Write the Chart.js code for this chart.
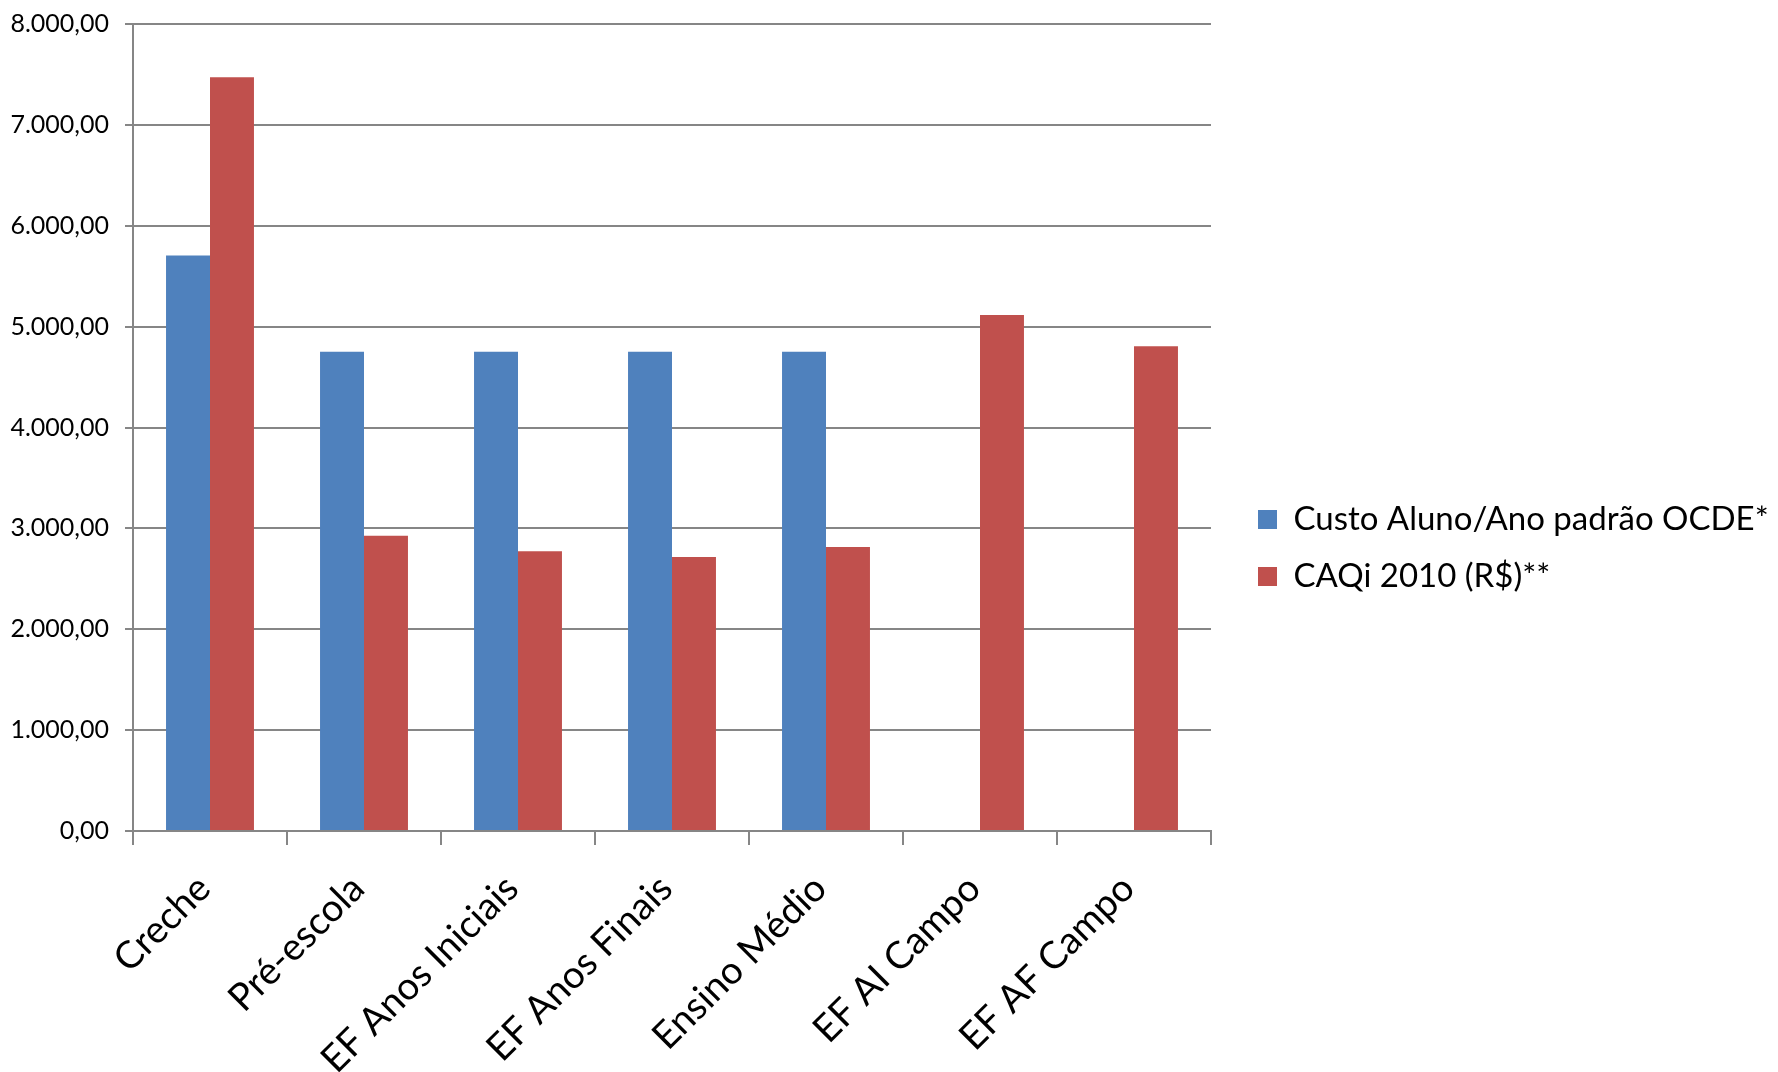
<!DOCTYPE html>
<html>
<head>
<meta charset="utf-8">
<script src="https://cdn.jsdelivr.net/npm/chart.js@4.4.0/dist/chart.umd.min.js"></script>
<style>
  body { margin: 0; background: #fff; }
</style>
</head>
<body>
<canvas id="grafico" width="1778" height="1072"></canvas>
<script>
// Dados do grafico
const etapas = ['Creche', 'Pré-escola', 'EF Anos Iniciais', 'EF Anos Finais', 'Ensino Médio', 'EF AI Campo', 'EF AF Campo'];
const custoOCDE = [5705, 4752, 4752, 4752, 4752, null, null];
const caqi2010 = [7471, 2926, 2772, 2717, 2815, 5115, 4805];
const yTicks = ['0,00', '1.000,00', '2.000,00', '3.000,00', '4.000,00', '5.000,00', '6.000,00', '7.000,00', '8.000,00'];

const cinza = '#868686';
const fonte = 'Lato';

// deixa a legenda com largura fixa
const larguraLegenda = {
    id: 'larguraLegenda',
    afterInit(chart) {
        const legenda = chart.legend;
        const fitOriginal = legenda.fit.bind(legenda);
        legenda.fit = function () {
            fitOriginal();
            this.width = 544;
        };
    }
};

const ctx = document.getElementById('grafico');
const myChart = new Chart(ctx, {
    type: 'bar',
    data: {
        labels: etapas,
        datasets: [{
            label: 'Custo Aluno/Ano padrão OCDE*',
            data: custoOCDE,
            backgroundColor: '#4F81BD',
            borderWidth: 0
        }, {
            label: 'CAQi 2010 (R$)**',
            data: caqi2010,
            backgroundColor: '#C0504D',
            borderWidth: 0
        }]
    },
    options: {
        responsive: false,
        animation: false,
        devicePixelRatio: 1,
        layout: {
            padding: { top: 24, left: 0, right: 0, bottom: 0 }
        },
        datasets: {
            bar: {
                categoryPercentage: 0.571,
                barPercentage: 1
            }
        },
        plugins: {
            tooltip: { enabled: false },
            legend: {
                position: 'right',
                labels: {
                    boxWidth: 19,
                    boxHeight: 19,
                    padding: 24,
                    color: '#000',
                    font: { family: fonte, size: 33 }
                }
            }
        },
        scales: {
            x: {
                grid: {
                    display: true,
                    drawOnChartArea: false,
                    drawTicks: true,
                    tickLength: 14,
                    color: cinza,
                    lineWidth: 2
                },
                border: { color: cinza, width: 2 },
                ticks: {
                    color: '#000',
                    font: { family: fonte, size: 38 },
                    minRotation: 45,
                    maxRotation: 45,
                    padding: 21,
                    labelOffset: -6
                },
                afterFit(s) {
                    s.height = 241;
                    s.paddingLeft = 0;
                    s.paddingRight = 0;
                }
            },
            y: {
                min: 0,
                max: 8000,
                grid: {
                    color: cinza,
                    lineWidth: 2,
                    tickLength: 8
                },
                border: { color: cinza, width: 2 },
                ticks: {
                    stepSize: 1000,
                    color: '#000',
                    padding: 16,
                    font: { family: fonte, size: 25 },
                    callback: function (value, index) {
                        return yTicks[index];
                    }
                },
                afterFit(s) {
                    s.width = 133;
                    s.paddingTop = 0;
                    s.paddingBottom = 0;
                }
            },
            y2: {
                position: 'right',
                grid: { display: false },
                border: { display: false },
                ticks: { display: false },
                afterFit(s) {
                    s.width = 23;
                    s.paddingTop = 0;
                    s.paddingBottom = 0;
                }
            }
        }
    },
    plugins: [larguraLegenda]
});
</script>
</body>
</html>
